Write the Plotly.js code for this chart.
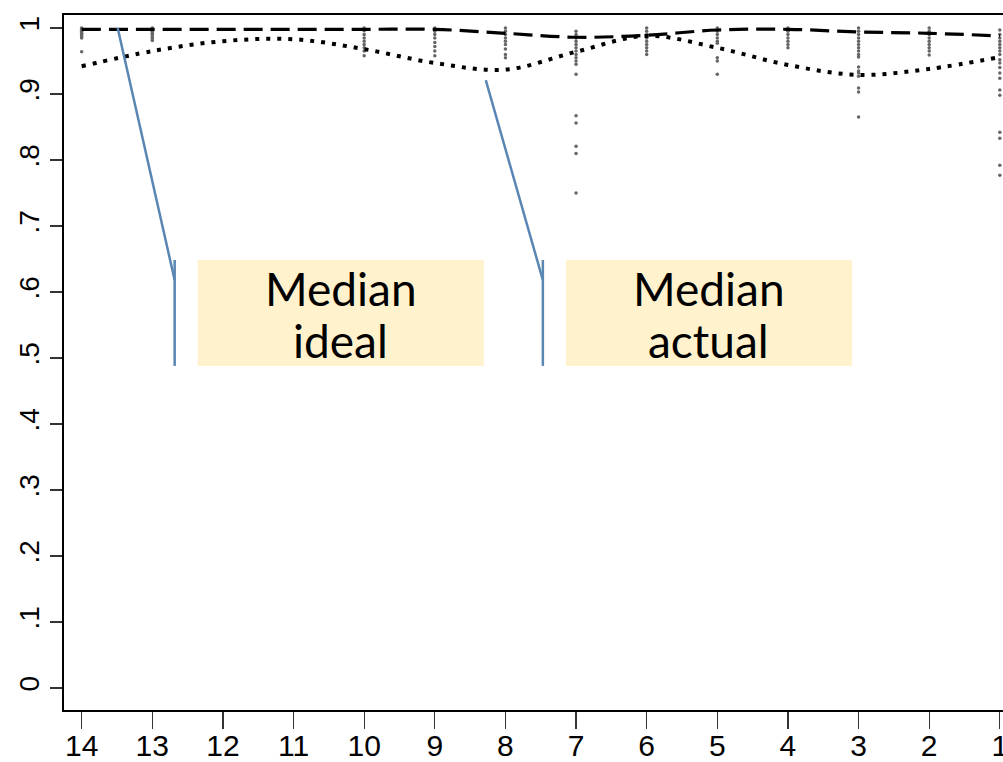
<!DOCTYPE html>
<html>
<head>
<meta charset="utf-8">
<script src="https://cdn.plot.ly/plotly-3.0.1.min.js"></script>
<style>html,body{margin:0;padding:0;background:#fff;}#chart{width:1003px;height:762px;}</style>
</head>
<body>
<div id="chart"></div>
<script>
// Categories (x positions, shown reversed 14 -> 1)
const periods = [14, 13, 12, 11, 10, 9, 8, 7, 6, 5, 4, 3, 2, 1];
// Median ideal (dashed) and median actual (dotted)
const medianIdeal  = [0.998, 0.998, 0.998, 0.998, 0.998, 0.998, 0.992, 0.986, 0.989, 0.997, 0.998, 0.994, 0.992, 0.988];
const medianActual = [0.942, 0.965, 0.980, 0.983, 0.968, 0.947, 0.937, 0.964, 0.988, 0.970, 0.944, 0.929, 0.938, 0.956];

// Individual observations (gray dots)
const obs14 = [1, 0.998, 0.995, 0.992, 0.99, 0.987, 0.985, 0.964];
const obs13 = [1, 0.998, 0.995, 0.992, 0.99, 0.987, 0.984, 0.981];
const obs10 = [1, 0.996, 0.99, 0.985, 0.98, 0.975, 0.97, 0.965, 0.958];
const obs9  = [1, 0.995, 0.99, 0.985, 0.978, 0.972, 0.965, 0.958];
const obs8  = [1, 0.995, 0.99, 0.985, 0.98, 0.975, 0.968, 0.96, 0.955];
const obs7  = [0.995, 0.99, 0.985, 0.98, 0.975, 0.97, 0.965, 0.96, 0.955, 0.95, 0.945, 0.93, 0.867, 0.856, 0.821, 0.81, 0.75];
const obs6  = [1, 0.995, 0.99, 0.985, 0.98, 0.975, 0.97, 0.965, 0.96];
const obs5  = [1, 0.995, 0.99, 0.985, 0.98, 0.977, 0.955, 0.95, 0.93];
const obs4  = [1, 0.995, 0.99, 0.985, 0.98, 0.975, 0.97];
const obs3  = [1, 0.995, 0.99, 0.985, 0.98, 0.975, 0.97, 0.965, 0.96, 0.956, 0.941, 0.935, 0.932, 0.927, 0.909, 0.903, 0.865];
const obs2  = [1, 0.995, 0.99, 0.985, 0.98, 0.975, 0.97, 0.965, 0.959];
const obs1  = [0.997, 0.99, 0.985, 0.98, 0.975, 0.97, 0.965, 0.96, 0.952, 0.947, 0.94, 0.932, 0.924, 0.906, 0.898, 0.842, 0.833, 0.792, 0.777];

// Tick labels
const yTickVals = [0, 0.1, 0.2, 0.3, 0.4, 0.5, 0.6, 0.7, 0.8, 0.9, 1];
const yTickText = ["0", ".1", ".2", ".3", ".4", ".5", ".6", ".7", ".8", ".9", "1"];
const xTickVals = periods;
const xTickText = periods.map(String);

// Callout labels
const labelIdeal = ["Median", "ideal"];
const labelActual = ["Median", "actual"];

const obsGroups = [[14, obs14], [13, obs13], [10, obs10], [9, obs9], [8, obs8], [7, obs7], [6, obs6], [5, obs5], [4, obs4], [3, obs3], [2, obs2], [1, obs1]];
const ptX = [], ptY = [];
obsGroups.forEach(([x, ys]) => ys.forEach(y => { ptX.push(x); ptY.push(y); }));

const traces = [
  {x: ptX, y: ptY, type: 'scatter', mode: 'markers', marker: {color: '#666666', size: 3.5}, hoverinfo: 'skip'},
  {x: periods, y: medianIdeal, type: 'scatter', mode: 'lines', line: {color: '#000', width: 3.2, dash: '19px,8px', shape: 'spline', smoothing: 1}},
  {x: periods, y: medianActual, type: 'scatter', mode: 'lines', line: {color: '#000', width: 4, dash: '4px,7px', shape: 'spline', smoothing: 1}}
];

const blue = '#5a86b3';
const boxFill = '#fff2cc';
const shapes = [
  {type: 'line', xref: 'x', yref: 'y', x0: 13.49, y0: 1.0, x1: 12.683, y1: 0.618, line: {color: blue, width: 2.5}},
  {type: 'line', xref: 'x', yref: 'y', x0: 12.683, y0: 0.6485, x1: 12.683, y1: 0.488, line: {color: blue, width: 2.5}},
  {type: 'rect', xref: 'x', yref: 'y', x0: 12.357, y0: 0.488, x1: 8.306, y1: 0.6485, fillcolor: boxFill, line: {width: 0}},
  {type: 'line', xref: 'x', yref: 'y', x0: 8.278, y0: 0.921, x1: 7.470, y1: 0.618, line: {color: blue, width: 2.5}},
  {type: 'line', xref: 'x', yref: 'y', x0: 7.470, y0: 0.6485, x1: 7.470, y1: 0.488, line: {color: blue, width: 2.5}},
  {type: 'rect', xref: 'x', yref: 'y', x0: 7.144, y0: 0.488, x1: 3.094, y1: 0.6485, fillcolor: boxFill, line: {width: 0}}
];

const annFont = {family: 'Lato, "Open Sans", sans-serif', size: 46, color: '#000'};
const annotations = [
  {x: 10.332, y: 0.606, xref: 'x', yref: 'y', text: labelIdeal[0], showarrow: false, font: annFont},
  {x: 10.332, y: 0.526, xref: 'x', yref: 'y', text: labelIdeal[1], showarrow: false, font: annFont},
  {x: 5.119, y: 0.606, xref: 'x', yref: 'y', text: labelActual[0], showarrow: false, font: annFont},
  {x: 5.119, y: 0.526, xref: 'x', yref: 'y', text: labelActual[1], showarrow: false, font: annFont}
];

const xTickFont = {family: '"Liberation Sans Narrow", "Liberation Sans", Arial, sans-serif', size: 30, color: '#000'};
const yTickFont = {family: '"Liberation Sans", Arial, sans-serif', size: 28, color: '#000'};
const layout = {
  width: 1003, height: 762,
  margin: {l: 64, r: 0, t: 15, b: 52, pad: 0},
  paper_bgcolor: '#fff', plot_bgcolor: '#fff',
  showlegend: false,
  xaxis: {
    range: [14.25, 0.955], tickvals: xTickVals, ticktext: xTickText,
    ticks: 'outside', ticklen: 17, tickwidth: 1.2, tickcolor: '#333',
    ticklabeloverflow: 'allow', ticklabelstandoff: -9,
    showline: true, linecolor: '#000', linewidth: 2, mirror: true,
    showgrid: false, zeroline: false, tickfont: xTickFont
  },
  yaxis: {
    range: [-0.0333, 1.0197], tickvals: yTickVals, ticktext: yTickText, tickangle: -90,
    ticks: 'outside', ticklen: 12, tickwidth: 1.2, tickcolor: '#333',
    showline: true, linecolor: '#000', linewidth: 2, mirror: true,
    showgrid: false, zeroline: false, tickfont: yTickFont
  },
  shapes: shapes,
  annotations: annotations
};

Plotly.newPlot('chart', traces, layout, {displayModeBar: false, staticPlot: true});
</script>
</body>
</html>
